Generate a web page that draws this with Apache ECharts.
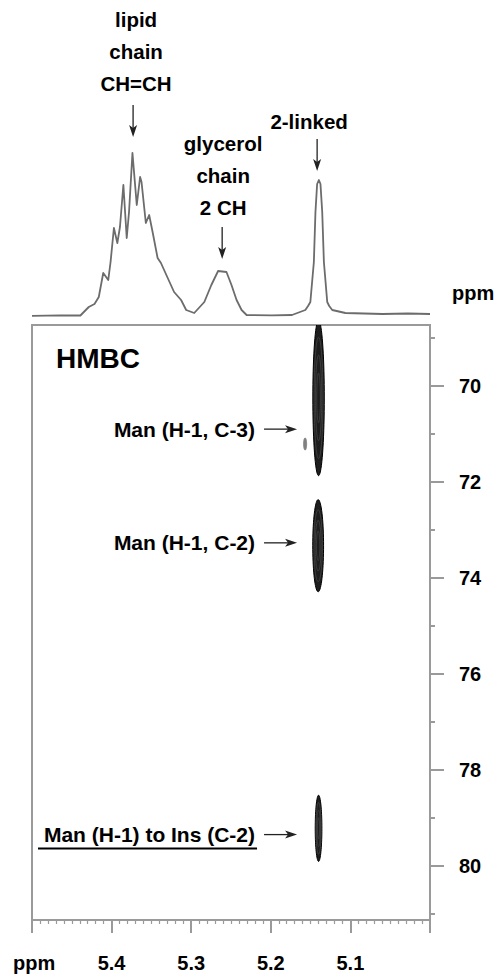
<!DOCTYPE html>
<html>
<head>
<meta charset="utf-8">
<script src="https://cdn.jsdelivr.net/npm/echarts@6/dist/echarts.min.js"></script>
<style>
  html, body { margin: 0; padding: 0; background: #fff; }
  #chart { width: 499px; height: 976px; }
</style>
</head>
<body>
<div id="chart"></div>
<script>
// 1H projection above the HMBC map: chemical shift (ppm) and relative intensity
const protonPpm = [
  5.5000, 5.4646, 5.4392, 5.4287, 5.4215, 5.4161, 5.4105, 5.4042, 5.4013, 5.3971,
  5.3928, 5.3895, 5.3852, 5.3810, 5.3781, 5.3738, 5.3684, 5.3642, 5.3624, 5.3570,
  5.3528, 5.3485, 5.3422, 5.3380, 5.3295, 5.3215, 5.3127, 5.3063, 5.2962, 5.2835,
  5.2747, 5.2662, 5.2557, 5.2494, 5.2430, 5.2367, 5.2304, 5.1987, 5.1734, 5.1566,
  5.1532, 5.1503, 5.1459, 5.1439, 5.1418, 5.1396, 5.1376, 5.1354, 5.1333, 5.1291,
  5.1266, 5.1228, 5.1063, 5.0595, 5.0278, 5.0000
];
const protonIntensity = [
  0.2, 0.7, 0.5, 9, 12, 19, 43, 36, 54, 88,
  73, 89, 131, 78, 104, 163, 111, 139, 134, 93,
  101, 84, 58, 53, 38, 24, 16, 6, 3, 14,
  31, 45, 44, 31, 16, 6, 1, 0.7, 1, 6,
  10, 14, 54, 104, 132, 136, 132, 104, 54, 14,
  10, 6, 3, 2, 2.5, 2
];

// HMBC cross peaks: 1H shift, 13C shift, half-width along 1H, half-width along 13C
const peakH     = [5.1400, 5.1405, 5.1400, 5.1569];
const peakC     = [70.25, 73.33, 79.22, 71.21];
const peakHalfH = [0.0072, 0.0068, 0.0042, 0.0019];
const peakHalfC = [1.62, 0.96, 0.69, 0.125];
const peakTone  = ['#1e1e1e', '#1e1e1e', '#1e1e1e', '#808080'];

// Axis ticks
const carbonTicks = [70, 72, 74, 76, 78, 80];
const carbonMinorTicks = [69, 71, 73, 75, 77, 79, 81];

// Annotations of the 1H trace: arrow tip (ppm, intensity) and label lines
const topLabels = [
  { lines: ['lipid', 'chain', 'CH=CH'], ppm: 5.3730, tip: 179, dx: 3, gap: 22 },
  { lines: ['glycerol', 'chain', '2 CH'], ppm: 5.2611, tip: 57, dx: 1, gap: 20 },
  { lines: ['2-linked'], ppm: 5.1418, tip: 145, dx: -8, gap: 18 }
];

// Annotations of the HMBC map: label text and 13C shift the arrow points at
const crossLabels = ['Man (H-1, C-3)', 'Man (H-1, C-2)', 'Man (H-1) to Ins (C-2)'];
const crossLabelC = [70.90, 73.27, 79.35];
const crossLabelUnderline = [false, false, true];

const FONT = '"Liberation Sans", Arial, Helvetica, sans-serif';
const AXIS_GRAY = '#9a9a9a';

const chart = echarts.init(document.getElementById('chart'), null, { renderer: 'svg' });

function ellipsePoints(cx, cy, rx, ry) {
  const pts = [];
  const n = 72;
  for (let i = 0; i < n; i++) {
    const a = (i / n) * Math.PI * 2;
    pts.push([cx + rx * Math.cos(a), cy + ry * Math.sin(a)]);
  }
  return pts;
}

function renderPeak(params, api) {
  const c = api.coord([api.value(0), api.value(1)]);
  const s = api.size([api.value(2), api.value(3)]);
  const rx = Math.abs(s[0]);
  const ry = Math.abs(s[1]);
  const tone = peakTone[params.dataIndex];
  const faint = tone === '#808080';
  const children = [];
  // nested contour levels
  [1, 0.78, 0.55, 0.32].forEach((k, i) => {
    if (faint && i > 0) return;
    children.push({
      type: 'polygon',
      shape: { points: ellipsePoints(c[0], c[1], rx * k, ry * k) },
      style: i === 0
        ? { fill: tone, stroke: faint ? tone : '#000', lineWidth: 1 }
        : { fill: null, stroke: '#4a4a4a', lineWidth: 0.7 }
    });
  });
  return { type: 'group', children };
}

const peakData = peakH.map((h, i) => [h, peakC[i], peakHalfH[i], peakHalfC[i]]);
const traceData = protonPpm.map((p, i) => [p, protonIntensity[i]]);

const labelStyle = { fontFamily: FONT, fontWeight: 'bold', fontSize: 20, color: '#000' };

chart.setOption({
  animation: false,
  backgroundColor: '#fff',
  grid: [
    { left: 32, right: 69, top: 116, height: 200 },
    { left: 32, right: 69, top: 325, bottom: 56, show: true, borderColor: AXIS_GRAY, borderWidth: 2, backgroundColor: 'transparent' }
  ],
  xAxis: [
    { gridIndex: 0, type: 'value', min: 5.0, max: 5.5, inverse: true, show: false },
    {
      gridIndex: 1, type: 'value', min: 5.0, max: 5.5, interval: 0.1, inverse: true, position: 'bottom',
      axisLine: { show: true, lineStyle: { color: AXIS_GRAY, width: 2 } },
      axisTick: { show: true, length: 13, lineStyle: { color: AXIS_GRAY, width: 2 } },
      minorTick: { show: true, splitNumber: 10, length: 4, lineStyle: { color: AXIS_GRAY, width: 1.2 } },
      splitLine: { show: false },
      minorSplitLine: { show: false },
      axisLabel: Object.assign({ margin: 33, showMinLabel: false, showMaxLabel: false, formatter: v => v.toFixed(1) }, labelStyle)
    }
  ],
  yAxis: [
    { gridIndex: 0, type: 'value', min: 0, max: 200, show: false },
    {
      gridIndex: 1, type: 'value', min: 68.73, max: 81.13, inverse: true, position: 'right',
      axisLine: { show: true, lineStyle: { color: AXIS_GRAY, width: 2 } },
      axisTick: { show: true, customValues: carbonTicks, length: 14, lineStyle: { color: AXIS_GRAY, width: 2 } },
      axisLabel: Object.assign({ customValues: carbonTicks, margin: 29, align: 'left' }, labelStyle),
      splitLine: { show: false }
    },
    {
      gridIndex: 1, type: 'value', min: 68.73, max: 81.13, inverse: true, position: 'right',
      axisLine: { show: false },
      axisTick: { show: true, customValues: carbonMinorTicks, length: 5, lineStyle: { color: AXIS_GRAY, width: 2 } },
      axisLabel: { show: false },
      splitLine: { show: false }
    }
  ],
  series: [
    {
      type: 'line', name: '1H', xAxisIndex: 0, yAxisIndex: 0, data: traceData,
      symbol: 'none', clip: false,
      lineStyle: { color: '#6c6c6c', width: 1.8, join: 'round' }
    },
    {
      type: 'custom', name: 'HMBC', xAxisIndex: 1, yAxisIndex: 1, data: peakData,
      renderItem: renderPeak, clip: true
    }
  ]
});

// Annotations placed from data coordinates
const graphics = [];
const textBase = { fontFamily: FONT, fontWeight: 'bold', fill: '#000' };

topLabels.forEach(lab => {
  const tip = chart.convertToPixel({ xAxisIndex: 0, yAxisIndex: 0 }, [lab.ppm, lab.tip]);
  const x = tip[0], y = tip[1];
  const top = y - 32;
  graphics.push({ type: 'line', shape: { x1: x, y1: top, x2: x, y2: y - 7 }, style: { stroke: '#222', lineWidth: 1.3 } });
  graphics.push({ type: 'polygon', shape: { points: [[x, y], [x - 4, y - 12], [x, y - 9], [x + 4, y - 12]] }, style: { fill: '#222' } });
  const n = lab.lines.length;
  lab.lines.forEach((t, i) => {
    graphics.push({
      type: 'text',
      style: Object.assign({ text: t, x: x + lab.dx, y: top - lab.gap - (n - 1 - i) * 32, fontSize: 20.5, align: 'center', verticalAlign: 'middle' }, textBase)
    });
  });
});

crossLabels.forEach((t, i) => {
  const p = chart.convertToPixel({ xAxisIndex: 1, yAxisIndex: 1 }, [peakH[0], crossLabelC[i]]);
  const tipX = p[0] - 21.5, y = p[1];
  const tailX = tipX - 33;
  graphics.push({ type: 'line', shape: { x1: tailX, y1: y, x2: tipX - 6, y2: y }, style: { stroke: '#222', lineWidth: 1.3 } });
  graphics.push({ type: 'polygon', shape: { points: [[tipX, y], [tipX - 12, y - 4], [tipX - 9, y], [tipX - 12, y + 4]] }, style: { fill: '#222' } });
  graphics.push({
    type: 'text',
    style: Object.assign({ text: t, x: tailX - 9, y: y, fontSize: 21, align: 'right', verticalAlign: 'middle' }, textBase)
  });
  if (crossLabelUnderline[i]) {
    graphics.push({ type: 'line', shape: { x1: 38, y1: y + 14, x2: tailX - 7, y2: y + 14 }, style: { stroke: '#000', lineWidth: 2 } });
  }
});

graphics.push({ type: 'text', style: Object.assign({ text: 'HMBC', x: 56, y: 358, fontSize: 28, align: 'left', verticalAlign: 'middle' }, textBase) });
graphics.push({ type: 'text', style: Object.assign({ text: 'ppm', x: 452, y: 293, fontSize: 20, align: 'left', verticalAlign: 'middle' }, textBase) });
graphics.push({ type: 'text', style: Object.assign({ text: 'ppm', x: 13, y: 963, fontSize: 20, align: 'left', verticalAlign: 'middle' }, textBase) });

chart.setOption({ graphic: graphics });
</script>
</body>
</html>
